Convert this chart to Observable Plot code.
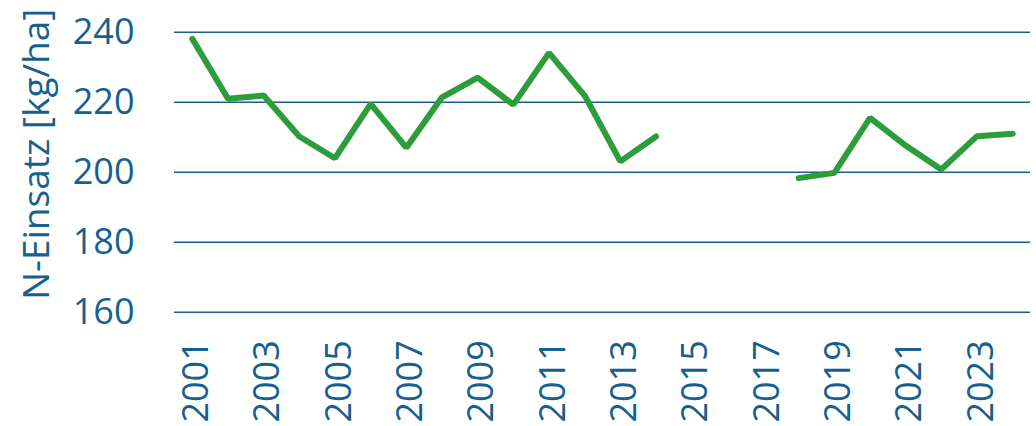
<!DOCTYPE html>
<html>
<head>
<meta charset="utf-8">
<script src="https://cdn.jsdelivr.net/npm/d3@7"></script>
<script src="https://cdn.jsdelivr.net/npm/@observablehq/plot@0.6"></script>
<style>
  html, body { margin: 0; padding: 0; background: #fff; }
  #chart svg { display: block; }
</style>
</head>
<body>
<div id="chart"></div>
<script>
const years = [2001, 2002, 2003, 2004, 2005, 2006, 2007, 2008, 2009, 2010, 2011, 2012,
               2013, 2014, 2015, 2016, 2017, 2018, 2019, 2020, 2021, 2022, 2023, 2024];
const nEinsatz = [238.1, 221.0, 221.9, 210.2, 204.0, 219.5, 207.0, 221.4, 227.0, 219.3, 234.1, 221.9,
                  203.1, 210.2, null, null, null, 198.3, 199.8, 215.5, 207.6, 200.8, 210.3, 211.0];
const xTicks = [2001, 2003, 2005, 2007, 2009, 2011, 2013, 2015, 2017, 2019, 2021, 2023];
const yTicks = [160, 180, 200, 220, 240];
const yLabel = "N-Einsatz [kg/ha]";

const data = years.map((y, i) => ({year: y, value: nEinsatz[i]}));

const textColor = "#15608f";
const gridColor = "#1c5f8d";
const lineColor = "#2d9c3a";

const chart = Plot.plot({
  width: 1036,
  height: 426,
  marginLeft: 174,
  marginRight: 6,
  marginTop: 31.7,
  marginBottom: 114.3,
  style: {fontFamily: "'Open Sans', sans-serif", fontSize: "36px", color: textColor, background: "#fff"},
  x: {type: "point", domain: years, padding: 0.5, round: false},
  y: {domain: [160, 240]},
  marks: [
    Plot.ruleY(yTicks, {stroke: gridColor, strokeWidth: 1.4}),
    Plot.axisY({ticks: yTicks, tickSize: 0, tickPadding: 40, label: null, fill: textColor, fontSize: 36}),
    Plot.axisX({ticks: xTicks, tickSize: 0, tickPadding: 28, tickRotate: -90, dx: 4, label: null, fill: textColor, fontSize: 36, tickFormat: d => String(d)}),
    Plot.line(data, {x: "year", y: "value", stroke: lineColor, strokeWidth: 6, strokeLinejoin: "miter", strokeLinecap: "round"}),
    Plot.text([yLabel], {frameAnchor: "left", textAnchor: "middle", rotate: -90, dx: -137, dy: -18, fill: textColor, fontSize: 37, text: d => d})
  ]
});
document.getElementById("chart").appendChild(chart);
</script>
</body>
</html>
